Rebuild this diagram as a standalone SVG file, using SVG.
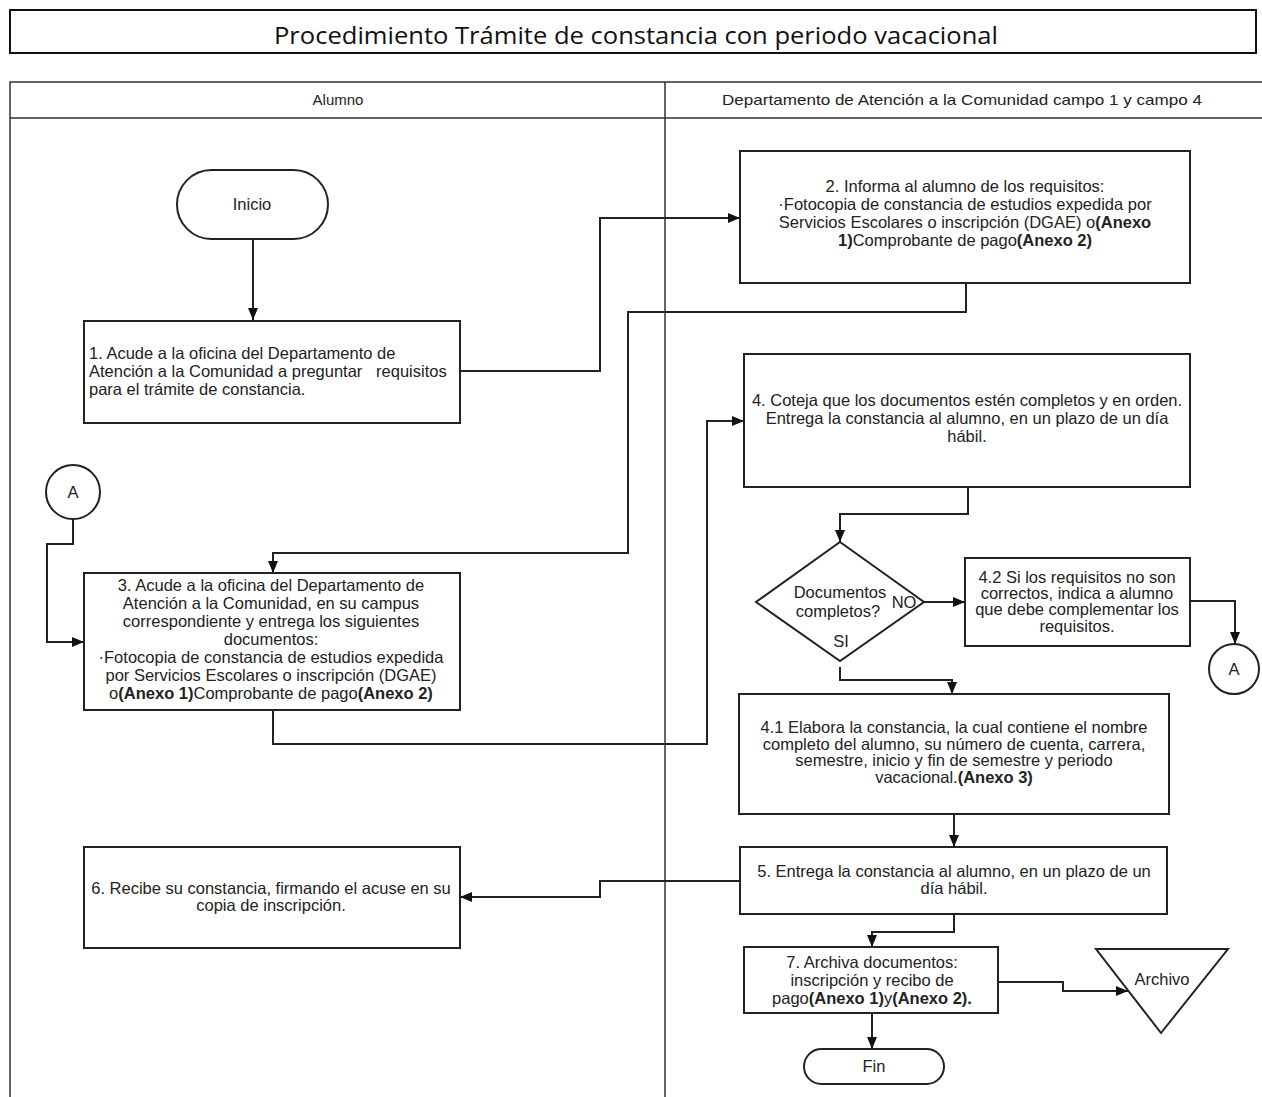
<svg xmlns="http://www.w3.org/2000/svg" width="1262" height="1097" viewBox="0 0 1262 1097">
<defs>
<marker id="arr" viewBox="0 0 12 10" refX="12" refY="5" markerWidth="12" markerHeight="10" markerUnits="userSpaceOnUse" orient="auto">
<path d="M0,0 L12,5 L0,10 Z" fill="#111"/>
</marker>
<style>
.node{fill:#fff;stroke:#222;stroke-width:2}
.lane{fill:none;stroke:#333;stroke-width:1.5}
.conn{fill:none;stroke:#222;stroke-width:2;marker-end:url(#arr)}
.t{font-family:"Liberation Sans",Arial,sans-serif;font-size:16.5px;fill:#222}
.c{text-anchor:middle}
.b{font-weight:bold}
.h{font-family:"Liberation Sans",Arial,sans-serif;font-size:15px;fill:#222;text-anchor:middle}
</style>
</defs>
<rect width="1262" height="1097" fill="#fff"/>
<g id="title">
<rect x="10" y="10" width="1246" height="43" fill="#fff" stroke="#111" stroke-width="2"/>
<text x="636" y="44" font-family="'Open Sans',sans-serif" font-size="24" fill="#111" text-anchor="middle" textLength="724" lengthAdjust="spacingAndGlyphs">Procedimiento Trámite de constancia con periodo vacacional</text>
</g>
<g id="lanes">
<path class="lane" d="M10,1097 V82 H1262 M10,118 H1262 M665,82 V1097"/>
<text class="h" x="338" y="105">Alumno</text>
<text class="h" x="962" y="105" textLength="480" lengthAdjust="spacingAndGlyphs">Departamento de Atención a la Comunidad campo 1 y campo 4</text>
</g>
<g id="connectors">
<path class="conn" d="M253,239 V320"/>
<path class="conn" d="M460,371 H600 V218 H740"/>
<path class="conn" d="M966,283 V312 H628 V553 H273 V573"/>
<path class="conn" d="M73,519 V544 H47 V642 H84"/>
<path class="conn" d="M273,710 V744 H707 V421 H744"/>
<path class="conn" d="M968,487 V514 H840 V542"/>
<path class="conn" d="M924,602 H965"/>
<path class="conn" d="M1190,601 H1235 V644"/>
<path class="conn" d="M840,667 V680 H952 V694"/>
<path class="conn" d="M954,814 V847"/>
<path class="conn" d="M740,881 H600 V897 H460"/>
<path class="conn" d="M954,914 V932 H872 V947"/>
<path class="conn" d="M998,982 H1063 V991 H1128"/>
<path class="conn" d="M872,1013 V1049"/>
</g>
<g id="inicio">
<rect class="node" x="177" y="170" width="151" height="69" rx="34.5"/>
<text class="t c" x="252" y="210">Inicio</text>
</g>
<g id="paso1">
<rect class="node" x="84" y="321" width="376" height="102"/>
<text class="t" x="89" y="359" xml:space="preserve">1. Acude a la oficina del Departamento de</text>
<text class="t" x="89" y="377" xml:space="preserve">Atención a la Comunidad a preguntar   requisitos</text>
<text class="t" x="89" y="395">para el trámite de constancia.</text>
</g>
<g id="paso2">
<rect class="node" x="740" y="151" width="450" height="132"/>
<text class="t c" x="965" y="192">2. Informa al alumno de los requisitos:</text>
<text class="t c" x="965" y="210">·Fotocopia de constancia de estudios expedida por</text>
<text class="t c" x="965" y="228">Servicios Escolares o inscripción (DGAE) o<tspan class="b">(Anexo</tspan></text>
<text class="t c" x="965" y="246"><tspan class="b">1)</tspan>Comprobante de pago<tspan class="b">(Anexo 2)</tspan></text>
</g>
<g id="paso3">
<rect class="node" x="84" y="573" width="376" height="137"/>
<text class="t c" x="271" y="591">3. Acude a la oficina del Departamento de</text>
<text class="t c" x="271" y="609">Atención a la Comunidad, en su campus</text>
<text class="t c" x="271" y="627">correspondiente y entrega los siguientes</text>
<text class="t c" x="271" y="645">documentos:</text>
<text class="t c" x="271" y="663">·Fotocopia de constancia de estudios expedida</text>
<text class="t c" x="271" y="681">por Servicios Escolares o inscripción (DGAE)</text>
<text class="t c" x="271" y="699">o<tspan class="b">(Anexo 1)</tspan>Comprobante de pago<tspan class="b">(Anexo 2)</tspan></text>
</g>
<g id="connA1">
<circle class="node" cx="73" cy="492" r="27"/>
<text class="t c" x="73" y="498">A</text>
</g>
<g id="paso4">
<rect class="node" x="744" y="354" width="446" height="133"/>
<text class="t c" x="967" y="406">4. Coteja que los documentos estén completos y en orden.</text>
<text class="t c" x="967" y="424">Entrega la constancia al alumno, en un plazo de un día</text>
<text class="t c" x="967" y="442">hábil.</text>
</g>
<g id="decision">
<path class="node" d="M840,542 L924,602 L840,661 L756,602 Z"/>
<text class="t c" x="840" y="598">Documentos</text>
<text class="t c" x="838" y="617">completos?</text>
<text class="t c" x="904" y="608">NO</text>
<text class="t c" x="841" y="647">SI</text>
</g>
<g id="paso42">
<rect class="node" x="965" y="558" width="225" height="88"/>
<text class="t c" x="1077" y="583">4.2 Si los requisitos no son</text>
<text class="t c" x="1077" y="599">correctos, indica a alumno</text>
<text class="t c" x="1077" y="615">que debe complementar los</text>
<text class="t c" x="1077" y="632">requisitos.</text>
</g>
<g id="connA2">
<circle class="node" cx="1234" cy="669" r="25"/>
<text class="t c" x="1234" y="675">A</text>
</g>
<g id="paso41">
<rect class="node" x="739" y="694" width="430" height="120"/>
<text class="t c" x="954" y="733">4.1 Elabora la constancia, la cual contiene el nombre</text>
<text class="t c" x="954" y="750">completo del alumno, su número de cuenta, carrera,</text>
<text class="t c" x="954" y="766">semestre, inicio y fin de semestre y periodo</text>
<text class="t c" x="954" y="783">vacacional.<tspan class="b">(Anexo 3)</tspan></text>
</g>
<g id="paso5">
<rect class="node" x="740" y="847" width="427" height="67"/>
<text class="t c" x="954" y="877">5. Entrega la constancia al alumno, en un plazo de un</text>
<text class="t c" x="954" y="894">día hábil.</text>
</g>
<g id="paso6">
<rect class="node" x="84" y="847" width="376" height="101"/>
<text class="t c" x="271" y="894">6. Recibe su constancia, firmando el acuse en su</text>
<text class="t c" x="271" y="911">copia de inscripción.</text>
</g>
<g id="paso7">
<rect class="node" x="744" y="947" width="254" height="66"/>
<text class="t c" x="872" y="968">7. Archiva documentos:</text>
<text class="t c" x="872" y="986">inscripción y recibo de</text>
<text class="t c" x="872" y="1004">pago<tspan class="b">(Anexo 1)</tspan>y<tspan class="b">(Anexo 2).</tspan></text>
</g>
<g id="archivo">
<path class="node" d="M1096,949 H1228 L1161,1033 Z"/>
<text class="t c" x="1162" y="985">Archivo</text>
</g>
<g id="fin">
<rect class="node" x="804" y="1049" width="140" height="35" rx="17.5"/>
<text class="t c" x="874" y="1072">Fin</text>
</g>
</svg>
